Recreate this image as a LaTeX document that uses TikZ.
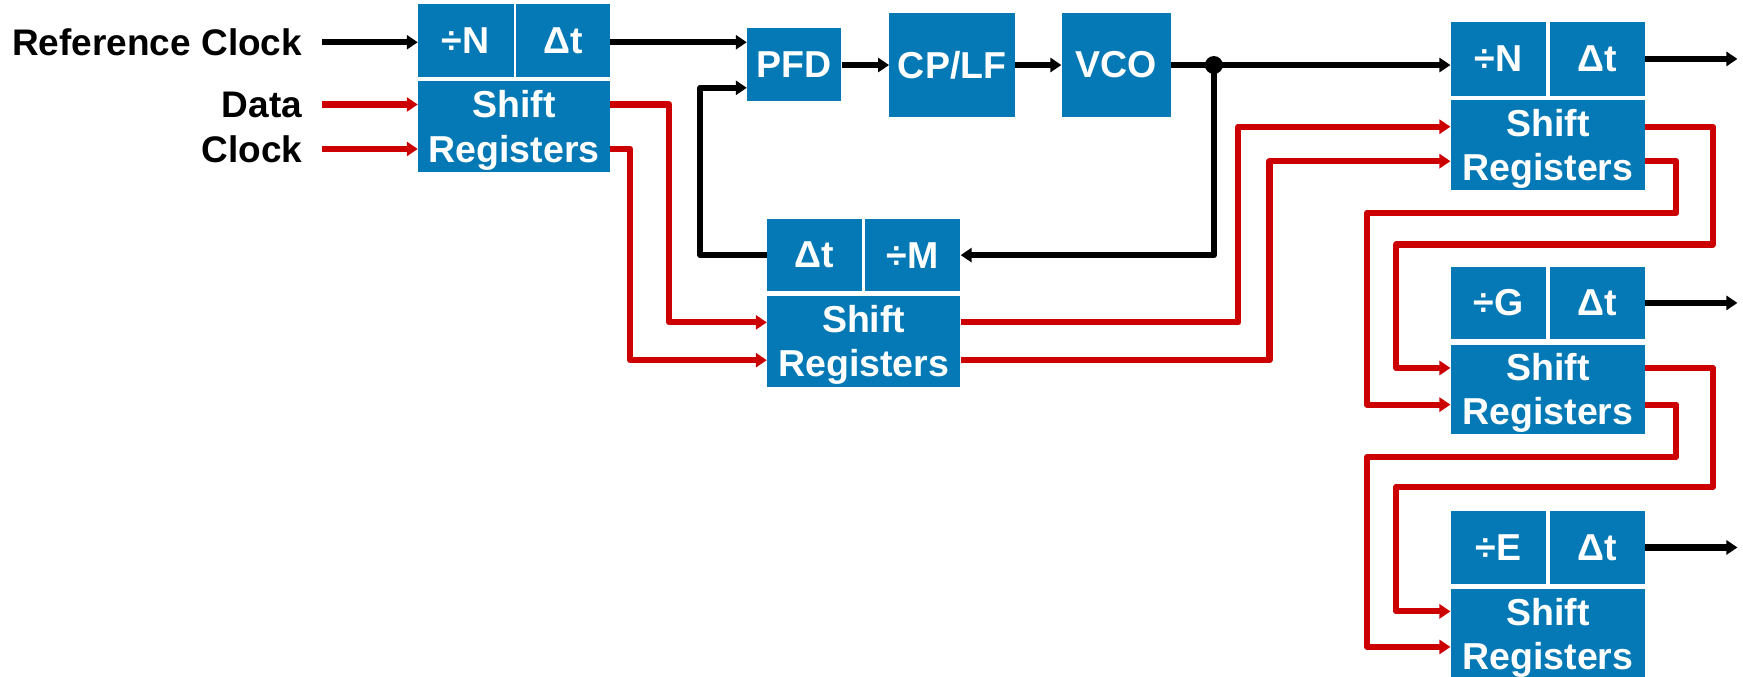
\documentclass[tikz,border=0pt]{standalone}
\usepackage{fontspec}
\setmainfont{Liberation Sans}
\usetikzlibrary{arrows.meta}
\definecolor{boxblue}{HTML}{0479B5}
\definecolor{sigred}{HTML}{CC0000}
\newcommand\blockbox[6]{\node[blk, minimum width={(#4-#2)*1.1116pt}, minimum height={(#5-#3)*1.1116pt}] (#1) at ({(#2+#4)/2},{(#3+#5)/2}) {#6};}
\newcommand\srbox[5]{\node[blk, minimum width={(#4-#2)*1.1116pt}, minimum height={(#5-#3)*1.1116pt}] (#1) at ({(#2+#4)/2},{(#3+#5)/2}) {};
  \node[blktext] at (#1.center) {Shift\\Registers};}
\begin{document}
\begin{tikzpicture}[x=1.1116pt,y=-1.1116pt,
  blk/.style={fill=boxblue,text=white,font=\fontsize{37.5}{44.5}\selectfont\bfseries,inner sep=0pt,align=center,draw=none},
  blktext/.style={text=white,font=\fontsize{37.5}{44.5}\selectfont\bfseries,inner sep=0pt,align=center,yshift=-3.6pt},
  lbl/.style={text=black,font=\fontsize{37}{44.5}\selectfont\bfseries,inner sep=0pt,anchor=east},
  bline/.style={line width=6.2pt,black,line join=round},
  tip/.style={-{Triangle[length=11pt,width=14pt]}},
  barr/.style={bline,tip},
  rarr/.style={line width=6.2pt,sigred,line join=round,tip},
]
\useasboundingbox (0,0) rectangle (1568,609);
\clip (0,0) rectangle (1568,609);

% labels
\node[lbl] (reflbl) at (272,38.3) {Reference Clock};
\node[lbl] (datalbl) at (272,94) {Data};
\node[lbl] (clklbl) at (272,134.5) {Clock};

% blocks
\blockbox{dN1}{376}{4}{462}{69}{÷N}
\blockbox{dt1}{464}{4}{549}{69}{Δt}
\srbox{sr1}{376}{73}{549}{155}
\blockbox{pfd}{672}{25}{757}{91}{PFD}
\blockbox{cplf}{800}{12}{913}{105}{CP/LF}
\blockbox{vco}{955}{12}{1053}{105}{VCO}
\blockbox{dt2}{690}{197}{775}{262}{Δt}
\blockbox{dM}{778}{197}{864}{262}{÷M}
\srbox{sr2}{690}{266}{864}{348}
\blockbox{dN3}{1305}{20}{1391}{86}{÷N}
\blockbox{dt3}{1394}{20}{1480}{86}{Δt}
\srbox{sr3}{1305}{90}{1480}{171}
\blockbox{dG}{1305}{240}{1391}{305}{÷G}
\blockbox{dt4}{1394}{240}{1480}{305}{Δt}
\srbox{sr4}{1305}{310}{1480}{390}
\blockbox{dE}{1305}{460}{1391}{525}{÷E}
\blockbox{dt5}{1394}{460}{1480}{525}{Δt}
\srbox{sr5}{1305}{530}{1480}{611}

% free ends
\coordinate (refin) at (290,38);
\coordinate (datain) at (290,94);
\coordinate (clkin) at (290,134);
\coordinate (j) at (1092,58.5);
\coordinate (fbk) at (630,79);
\coordinate (outN) at (1563,53);
\coordinate (outG) at (1563,272.5);
\coordinate (outE) at (1563,492.5);

% black connectors
\draw[barr] (refin) -- (dN1.west |- refin);
\draw[barr] (dt1.east |- refin) -- (pfd.west |- refin);
\draw[barr] (pfd.east |- vco.east) -- (cplf.west |- vco.east);
\draw[barr] (cplf.east |- vco.east) -- (vco.west);
\draw[barr] (vco.east) -- (dN3.west |- vco.east);
\draw[barr] (j) |- (dM.east);
\draw[barr] (dt2.west) -| (fbk) -- (fbk -| pfd.west);
\fill (j) circle (9pt);
\draw[barr] (dt3.east |- outN) -- (outN);
\draw[barr] (dt4.east |- outG) -- (outG);
\draw[barr] (dt5.east |- outE) -- (outE);

% red connectors
\draw[rarr] (datain) -- (sr1.west |- datain);
\draw[rarr] (clkin) -- (sr1.west |- clkin);
\draw[rarr] (sr1.east |- datain) -| (602,290) -- (sr2.west |- 0,290);
\draw[rarr] (sr1.east |- clkin) -| (567,324) -- (sr2.west |- 0,324);
\draw[rarr] (sr2.east |- 0,290) -| (1114,114) -- (sr3.west |- 0,114);
\draw[rarr] (sr2.east |- 0,324) -| (1142,145) -- (sr3.west |- 0,145);
\draw[rarr] (sr3.east |- 0,114) -| (1541,220) -| (1256,331) -- (sr4.west |- 0,331);
\draw[rarr] (sr3.east |- 0,145) -| (1508,191.5) -| (1230,364) -- (sr4.west |- 0,364);
\draw[rarr] (sr4.east |- 0,331) -| (1541,438) -| (1256,550) -- (sr5.west |- 0,550);
\draw[rarr] (sr4.east |- 0,364) -| (1508,411) -| (1230,582) -- (sr5.west |- 0,582);
\end{tikzpicture}
\end{document}
